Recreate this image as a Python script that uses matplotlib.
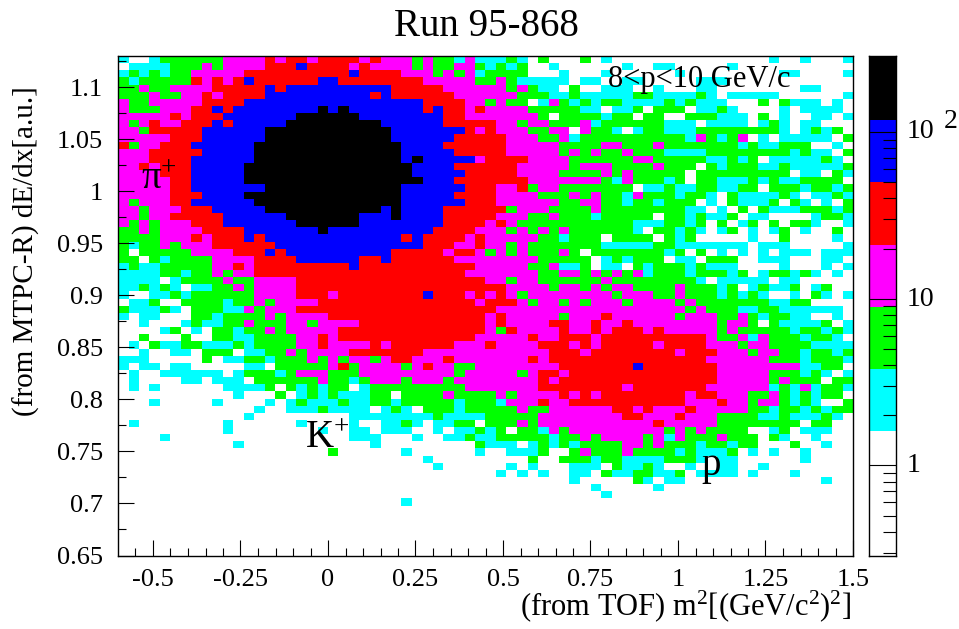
#!/usr/bin/env python3
# ROOT style COLZ histogram of dE/dx against m2, rows run from the top of the plot down.
import numpy as np
import matplotlib
matplotlib.use("Agg")
import matplotlib.pyplot as plt
from matplotlib.colors import ListedColormap, BoundaryNorm
from matplotlib.ticker import FixedLocator, NullFormatter

plt.rcParams["font.family"] = ["Liberation Serif", "DejaVu Serif"]
plt.rcParams["mathtext.fontset"] = "custom"
plt.rcParams["mathtext.rm"] = "Liberation Serif"
plt.rcParams["mathtext.it"] = "Liberation Serif"
plt.rcParams["mathtext.default"] = "regular"

W, H = 959, 629

# one char per bin: index into LEVEL_COUNTS
BIN_ROWS = [
    "1 00 1 222222 3333 4 3 44 3 4444  3 4 333 2 3 22 1 3 111 2 1 0 2 000 2 0  1 000000000000000 1 00 1 000 1",
    "0 1111 222 3 2 3333 444 5 4444 3  4 3333 2 3 22 33 2 1 2 1 2 00 1 0000  00 1 00 11 00000 1 00000000000",
    "1 2 1 2 1 22 33333 4444444444 5  4444 333 2 3 2 3 1 2222 000 1 000  1 000000 1 000000000 11 0000 1",
    "2 1 22222 4 3 4 3 4 5 444444 55 44  444444 33333 22 3 2 11111 0 11  00 11 00000 111 000000000000",
    "22 3 22 3333 44444 5 4 5555555  555 44444 333333 2 3 2 11 0 2 00  111 00 1 000 11 00000000 11 000",
    "222 3 22 33 4 3 4444 555555555  5 4 5 444444 333333 222 11 2 11  111 22 1 111 2 1 0 11111 000000 1",
    "3 22 33333 4444 55555555555  555555 4444 33 2 3 22 0 1 3 2 1 2 1  22 1111 2 1 2 111 000 2 0 2 111 0 1 0",
    "3 222 333 44 5 4 55555555 6 5 6 5  555555 4 5 44 3 4 3333 22222 11  0 11 2 0 222 0 11 2 1 0000 1 0 1111 0",
    "33333 4 3 444 5555555 666666  55555555 44 3333333 2 0 2222  1 22 0 22 00 222 111 0 2 0 1 00 11 0 1",
    "3 2 3 4 33 444 5 4 55555 6666666  66 555555 44444 33 2 33 222 3 1  222222 111 0 1111 0 1 2 1 0 11 000",
    "33 2 44444 555555 666666666  666 5555555 4 3 4 333 22 33 0 3 2  2 1 0 1 22 111 22222222 1 0 1 2 1 2 0",
    "33333 444 555555 666666666  666 555555 44444 333 22 3 1 22  22222222 1 3 2 1 2 3 0 1 0 11111 0 2",
    "4 2 33 444 555555 6666666666  6666 5555 444444 33333 2222  33 222 3 2222222 1 2 11 222 00 1 0",
    "333 44444 55555 6666666666  6666 55555 44444 33333 2 3 2 3  22 3 222 1111 22222222 1 2 11 0 2",
    "333 4444 555555 6666666666  6666 5 6 55555 3 4444 3333 222  222 33 22222 11 2 1 2 0 11111 2 1 0",
    "33 4 3 444 55555 66666666666  66666 5555 444444 33333 2 33  3 2222 3 222 0 2 1 222 11 2 11111 2",
    "3333 444 55555 66666666666  66666 55555 44444 3333 2222  3 2 3 22222 0 222222222 0 11 0 2 1",
    "33333 44 55555 66666666666  666666 555 4444444 3333333  2 1 3 222 1 2 0 22 111 2 1 2 11 2222 0",
    "33333 44 5555555 666666666  6666 555555 444 33 4 2 33 2222  222 0 11 2 11 22 11 22 0 222 1 22 1 2",
    "33333 444 5555 66666666666  6666 55555 4444 3333 222 3 2 3  22 1 3 222 1 22 1 0 2 1111 2 1 0 11 2 1",
    "3 2 333 44 555555 6666666666  6666 555555 444 333333 22 33  22 1 22 1 222 0 1 0 2 111 2 0 2 1 0 1 0 2",
    "33 2 333 444 55555 666666666  66 5 6 5555 444444 2 333 2222 3  22222222 11 0 1 0 2 0 2 111 222 1 2",
    "33 2 33 44444 555555 6666666  555 6 5555 44444 333 22 3 222 1  22222 0 22 1 2 11 2 0 11 0000 1 22 1",
    "3 2 3 2 333 444 5555555 666666  55555555 4444 3 4 3 22222222  222 111 22 1 2 0 2 0 1 2 0 2 0 22 1 00 1",
    "22 3 2 3333 4444 5555555 6 555  5555555 4444 333 2 3 2 3 2 3 222  222 1 0 22 1 2 1 0 1 2 0 1 0 1 2 0 1 00 2 0",
    "2222 333 4 3 444 5 4 555555555  5555 4 5 4444 3 4 33333 22 1 222  0 2222 0 2 1 2 00000 1 00 2 0000 1 0",
    "2 1 22 3 2 333 444444 55555555  555555 444 33 4 33 2 3 2222222  11111 22 1111111 0 111 00000 1",
    "2 0 22222 3333 444 5 4 5555555  555 44444 3 44 3 2 3 2 3 222 3 2 0 2  222222 1 2 0 2 0 1 0 1 0 1 0 111 0 111",
    "22 0 2 1 2222 3333 4444 555555  44 5 444444 33333333 22222 0  1 2 1 222 0 11 0 222 00 111 000 11 0",
    "1 2 11 22222 33 4 3 444444444 5  44444444444 33333 22 3 11 2 0  11 0 2 1 222 1 2 111 0000 1 000 1 0 1",
    "1111 22 1 22 3 2 33 4444444444  4444444444 3333333 22 33 2 3  2 3 2 3 1 222 1 222 1 2 0 1 22 1 2 1 0 1 0",
    "1111 0 1 2222 3 22 3333 444444  444444444444 33 2 33 222222  3 22222222 1 0 11111 0 11 00000",
    "11 2 1 2 1 0 11 22 3 2 3333 444444  44444444444444 3333 2 33 2 3  2 33 2222 3 222 1 2 0 1 2 11 2 0 1 2 00",
    "1 00 11 2 1 222222 3333 444 3 44  444444 5 444 3 4 3 4 3 2 3333333  3 2 333 22 3 222 1 2 1 2 1 00 1 0 2 1 0 1",
    "0 11 2 00 2222 1 22 3 2 3333 4444  44444444444 3 444 3 2 33 2 3 2 3  33 2 3333 2 3 2222222 11 22 0000",
    "2 111 2 1 0 222 11 3 2 333 444444  4444444444444 3333333333  33333333 2 3 222 11 22 111111 0",
    "1 0 11 000 22 1 2222 3 2 3333 444  444444444444 3 4 33333 2 333  4 333333 2 333 22 3 2 1 22 11 00 1 0",
    "00 1 000 1 2 11 22 3 222 33 2 3333  444444444444 3 4 3333 44 33 4  33 4 33333333 2 33 2 0 2 1111 2 0 1",
    "0000 1 2 0 1 0 22 1 22 3 2 33333 44  444444444444 3 2 4 3333 4 33 4  3 444 3 4 33333 2 3 22222 1 22 1 2 1",
    "00 2 000 2 00 22 11 2222 33 4 3 44  44444444444 33333 4 33 444 3  4444444444 3 22 3 1 3 222 1 22 1 0",
    "0 1 0 2 11 22 111 2 1 2222 33 4 333  3 4 3 444444 333 4 3333 444 3 4 3  44444 3 4444 333 2 33 2222 1111",
    "00 1 00 11 0 222 0 11 22 3 2 3333 4  444444 333333333333 444 3 4  4444444 3 444 333 2 33 22 1 22 1 2",
    "111 00000 2 0 11 22 1 222 3 2 3 2 3  3 2 3 44 333 4 3333333 4 3 44444  4444444444 333333 222 1 222 1",
    "1 0 11 0 11 00000 11 0 22222 3 4 2  3333 2 3 4 33 22 33333333 4444  444 5 4444444 33333333 11 22 0",
    "0 1 00 111111 0 1 222 1 2 333 222  333333333 2 33333 2 3 44 3 444  44444444444 33333 222 1 2 1 0 1",
    "0 1 0000 11 0 111 0 222222 3 22 1  2 333 2 333 2 33333333 4 3 4444  44444444444 33333 2 3 222 0 22",
    "0 1 0 1 000000 1111 2 0 2 1 2 1 22 0  1 222222222 3333333 444444  44 3 4444444 333333 1 2 1 3 1 22 1",
    "00000000000 1 000 2 0 1 2 1 2 11  1 22 0 2222 3 2222 3 2 3333 4 3 4 3  44444444 3 44 333 22 3 2 1 2 1 22 0",
    "000 1 00000 1 0000 1 0 1 2 111 2 1  1 22 1 22222 1 222 1 333 4 33 444  44444444 333 4 33 2 33 2 1 2 1 00 2",
    "0000000000000 1 00 111 2 111  1 0 1 2 1 0 222 1 22222 3 22 33333  3 44 3 4 333 4 33333 22 1 22 1 2 1 22",
    "000000000000 1 000000000 1  1111111 2 1111 22222 333333  33 44 333 4 333 2222 11 2 111 2 1 0",
    "0 1 00000000 1 000000 1 0000 1  00 11 2 1 0 11 22 0 222 3 2 333333  33333 4 33333 22222222 0 22 00",
    "0000000000 1 00000000 1 00 1  1 0 111 00 1 0 11 2 1 2 0 22 1 3 2 333  333333 2 3 2 3 2222 00 1 2 0 111 00",
    "0000 1 00000000000000000 1  11 000 1 00 11 2 11 22222 1 22 3 2  3333 2 3 1 3 222 3 222 0 2 1 00 1 000",
    "00000000000 1 00000000000  0 1 000000000 2 111 0 1 2 1 2 1 22  22 33 2 3 222 1 22 1 22 000 2 00 1 00",
    "00000000000000000000 2 00  0000 1 000000 1 00 111 2 00 2 3 2  22 3 2222 1 2 111 2 0 1 0 1 00 1 0000",
    "00000000000000000000000  000000 1 000000000 2 00 222 1  22 1111 222 1 0 1 1 000000 1 0000",
    "00000000000000000000000  0000000 1 000000 1 0 1 000 111  0 2 11 2 1 00 1 0 0 11 00 1 00000000",
    "00000000000000000000000  0000000000000 1 0 1 0 1 00 11 0  2 11 22 11 2 0 1111 0 1 000 1 00000",
    "00000000000000000000000  00000000000000000000 1 00  000 2 1 0 11 0000000000000 1 00",
    "00000000000000000000000  0000000000000000000000 1  00000 1 000000000000000000",
    "00000000000000000000000  00000000000000000000000  1 00000000000000000000000",
    "00000000000000000000000  0000 1 000000000000000000  000000000000000000000000",
    "0" * 70,
    "0" * 70,
    "0" * 70,
    "0" * 70,
    "0" * 70,
    "0" * 70,
    "0" * 70,
]

# representative content per colour class, and the palette edges of the COLZ bar
LEVEL_COUNTS = [0, 2.5, 6, 14, 33, 78, 180]
LEVEL_EDGES = [0.288, 1.6, 3.8, 8.9, 21, 50, 118, 286]
LEVEL_COLORS = ["#ffffff", "#00ffff", "#00ff00", "#ff00ff", "#ff0000", "#0000ff", "#000000"]

X_RANGE = (-0.6, 1.5)
Y_RANGE = (0.65, 1.13)
X_TICKS = [-0.5, -0.25, 0, 0.25, 0.5, 0.75, 1, 1.25, 1.5]
X_LABELS = ["-0.5", "-0.25", "0", "0.25", "0.5", "0.75", "1", "1.25", "1.5"]
Y_TICKS = [0.65, 0.7, 0.75, 0.8, 0.85, 0.9, 0.95, 1, 1.05, 1.1]
Y_LABELS = ["0.65", "0.7", "0.75", "0.8", "0.85", "0.9", "0.95", "1", "1.05", "1.1"]
BAR_MAJOR = [1, 10, 100]
BAR_MINOR = [0.3, 0.4, 0.5, 0.6, 0.7, 0.8, 0.9, 2, 3, 4, 5, 6, 7, 8, 9,
             20, 30, 40, 50, 60, 70, 80, 90, 200]

rows = [r.replace(" ", "") for r in BIN_ROWS]
bad = [(i, len(r)) for i, r in enumerate(rows) if len(r) != 70]
assert not bad, bad
levels = np.array([[int(c) for c in r] for r in rows])[::-1]
counts = np.array(LEVEL_COUNTS)[levels]

cmap = ListedColormap(LEVEL_COLORS).with_extremes(under="#ffffff")
norm = BoundaryNorm(LEVEL_EDGES, cmap.N)


def px_axes(fig, left, top, right, bottom):
    return fig.add_axes([left / W, 1 - bottom / H, (right - left) / W, (bottom - top) / H])


def px_text(fig, x, y, s, **kw):
    kw.setdefault("color", "black")
    kw.setdefault("va", "center")
    fig.text(x / W, 1 - y / H, s, zorder=10, **kw)


fig = plt.figure(figsize=(W / 100, H / 100), dpi=100)
ax = px_axes(fig, 118, 56, 853, 555.5)
x_edges = np.linspace(X_RANGE[0], X_RANGE[1], levels.shape[1] + 1)
y_edges = np.linspace(Y_RANGE[0], Y_RANGE[1], levels.shape[0] + 1)
ax.pcolormesh(x_edges, y_edges, counts, cmap=cmap, norm=norm, antialiased=False, linewidth=0)
ax.set_xlim(*X_RANGE)
ax.set_ylim(*Y_RANGE)
ax.set_axisbelow(False)
ax.set_xticks(X_TICKS, X_LABELS)
ax.set_yticks(Y_TICKS, Y_LABELS)
ax.set_xticks(np.arange(-0.55, 1.5, 0.05), minor=True)
ax.set_yticks(np.arange(0.675, 1.13, 0.05), minor=True)
ax.tick_params(which="major", direction="in", length=11.5, width=0.8, labelsize=19, pad=10)
ax.tick_params(which="minor", direction="in", length=5.5, width=0.8)
ax.tick_params(axis="y", which="major", pad=11)
for s in ax.spines.values():
    s.set_linewidth(1.0)

cax = px_axes(fig, 869, 56, 896, 555.5)
cax.pcolormesh([0, 1], LEVEL_EDGES, np.array(LEVEL_COUNTS)[:, None], cmap=cmap, norm=norm, antialiased=False, linewidth=0)
cax.set_yscale("log")
cax.set_ylim(LEVEL_EDGES[0], LEVEL_EDGES[-1])
cax.set_xlim(0, 1)
cax.set_xticks([])
cax.yaxis.tick_right()
cax.yaxis.set_major_locator(FixedLocator(BAR_MAJOR))
cax.yaxis.set_minor_locator(FixedLocator(BAR_MINOR))
cax.yaxis.set_major_formatter(NullFormatter())
cax.yaxis.set_minor_formatter(NullFormatter())
cax.set_axisbelow(False)
cax.tick_params(axis="y", which="major", direction="in", length=19.5, width=0.8)
cax.tick_params(axis="y", which="minor", direction="in", length=9.5, width=0.8)
for s in cax.spines.values():
    s.set_linewidth(1.0)

px_text(fig, 486, 26, "Run 95-868", fontsize=28, ha="center")
px_text(fig, 851, 606, r"(from TOF) m$^{2}$[(GeV/c$^{2}$)$^{2}$]", fontsize=22, ha="right")
px_text(fig, 26, 251, "(from MTPC-R) dE/dx[a.u.]", fontsize=21, ha="center", rotation=90)
px_text(fig, 608, 80, "8<p<10 GeV/c", fontsize=22, ha="left")
px_text(fig, 141, 180, r"$\pi^{+}$", fontsize=28, ha="left")
px_text(fig, 305, 438, r"K$^{+}$", fontsize=28, ha="left")
px_text(fig, 701, 465, "p", fontsize=28, ha="left")
px_text(fig, 907, 132, "10", fontsize=20, ha="left")
px_text(fig, 944, 122, "2", fontsize=20, ha="left")
px_text(fig, 907, 299, "10", fontsize=20, ha="left")
px_text(fig, 907, 465, "1", fontsize=20, ha="left")

fig.savefig("out.png", dpi=100)
